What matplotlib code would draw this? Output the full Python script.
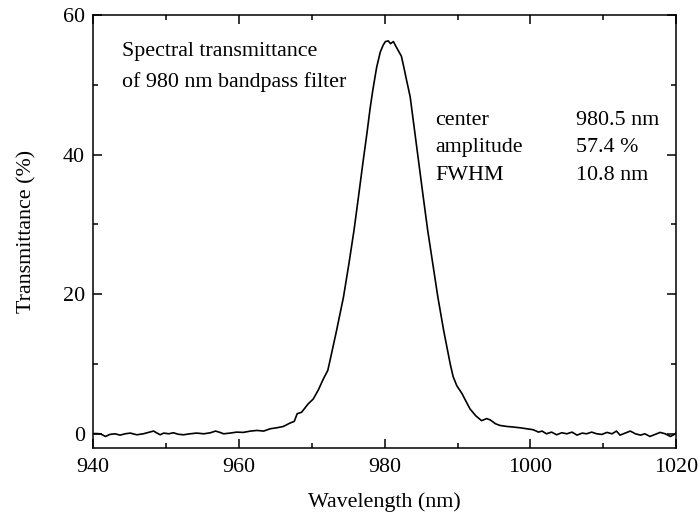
import matplotlib.pyplot as plt
from matplotlib.ticker import MultipleLocator

# wavelength (nm) and transmittance (%)
wavelength = [
    940.0, 940.5, 941.0, 941.7, 942.3, 943.0, 943.7, 944.4, 945.1, 946.0,
    946.9, 947.6, 948.3, 948.7, 949.2, 949.7, 950.4, 951.0, 951.7, 952.4,
    953.3, 954.2, 955.2, 956.1, 956.8, 957.4, 957.9, 958.8, 959.7, 960.6,
    961.6, 962.5, 963.4, 964.3, 965.2, 966.1, 967.0, 967.6, 968.0, 968.6,
    969.5, 970.2, 970.9, 971.6, 972.2, 972.5, 973.4, 974.35, 975.1, 975.8,
    976.4, 977.0, 977.6, 978.0, 978.4, 978.9, 979.4, 979.8, 980.1, 980.5,
    980.8, 981.2, 981.5, 982.3, 982.7, 983.0, 983.5, 984.1, 984.7, 985.3,
    985.9, 986.6, 987.3, 988.1, 989.0, 989.4, 989.9, 990.6, 991.7, 992.5,
    993.3, 994.0, 994.5, 995.2, 995.8, 996.7, 997.7, 998.6, 999.5, 1000.4,
    1001.1, 1001.6, 1002.2, 1002.9, 1003.6, 1004.3, 1005.0, 1005.7, 1006.4, 1007.1,
    1007.7, 1008.4, 1009.1, 1009.8, 1010.5, 1011.2, 1011.8, 1012.3, 1013.0, 1013.7,
    1014.4, 1015.1, 1015.7, 1016.4, 1017.1, 1017.8, 1018.5, 1019.2, 1019.9, 1020.0,
]
transmittance = [
    0.05, 0.05, 0.02, -0.36, -0.07, 0.02, -0.17, 0.02, 0.12, -0.12,
    0.02, 0.22, 0.41, 0.17, -0.12, 0.12, 0.02, 0.17, -0.05, -0.12,
    0.02, 0.12, 0.02, 0.17, 0.41, 0.22, 0.02, 0.12, 0.26, 0.22,
    0.41, 0.50, 0.41, 0.74, 0.88, 1.07, 1.55, 1.80, 2.90, 3.10,
    4.30, 5.00, 6.30, 7.90, 9.1, 10.5, 14.8, 19.6, 24.4, 29.2,
    33.9, 38.7, 43.3, 46.6, 49.4, 52.5, 54.7, 55.7, 56.2, 56.3,
    55.9, 56.2, 55.6, 54.1, 52.2, 50.7, 48.3, 43.5, 38.7, 33.9,
    29.2, 24.4, 19.6, 14.8, 10.0, 8.2, 6.9, 5.8, 3.6, 2.6,
    1.9, 2.2, 2.0, 1.46, 1.22, 1.08, 0.98, 0.88, 0.74, 0.60,
    0.26, 0.41, 0.02, 0.26, -0.12, 0.17, 0.02, 0.26, -0.17, 0.12,
    0.02, 0.26, 0.02, -0.07, 0.22, 0.02, 0.41, -0.17, 0.12, 0.41,
    0.02, -0.17, 0.02, -0.36, -0.07, 0.22, 0.02, -0.36, 0.02, 0.22,
]

fit_names = ["center", "amplitude", "FWHM"]
fit_values = ["980.5 nm", "57.4 %", "10.8 nm"]

plt.rcParams["font.family"] = ["Liberation Serif", "DejaVu Serif"]
plt.rcParams["font.size"] = 15.8

fig = plt.figure(figsize=(7.0, 5.19), dpi=100)
ax = fig.add_axes([0.133, 0.137, 0.833, 0.834])

ax.plot(wavelength, transmittance, color="black", lw=1.2)

ax.set_xlim(940, 1020)
ax.set_ylim(-2, 60)
ax.xaxis.set_major_locator(MultipleLocator(20))
ax.xaxis.set_minor_locator(MultipleLocator(10))
ax.yaxis.set_major_locator(MultipleLocator(20))
ax.yaxis.set_minor_locator(MultipleLocator(10))
ax.tick_params(which="both", direction="in", top=True, right=True, width=1.1)
ax.tick_params(which="major", length=6.5, pad=6)
ax.tick_params(axis="x", which="major", pad=7.5)
ax.tick_params(which="minor", length=3.6)
for s in ax.spines.values():
    s.set_linewidth(1.1)

ax.set_xlabel("Wavelength (nm)", labelpad=10.5)
ax.set_ylabel("Transmittance (%)", labelpad=18.5)

ax.text(0.049, 0.915, "Spectral transmittance", transform=ax.transAxes, va="center")
ax.text(0.049, 0.845, "of 980 nm bandpass filter", transform=ax.transAxes, va="center")

ys = [0.756, 0.693, 0.630]
for name, val, y in zip(fit_names, fit_values, ys):
    ax.text(0.587, y, name, transform=ax.transAxes, va="center")
    ax.text(0.828, y, val, transform=ax.transAxes, va="center")

fig.savefig("out.png", dpi=100)
